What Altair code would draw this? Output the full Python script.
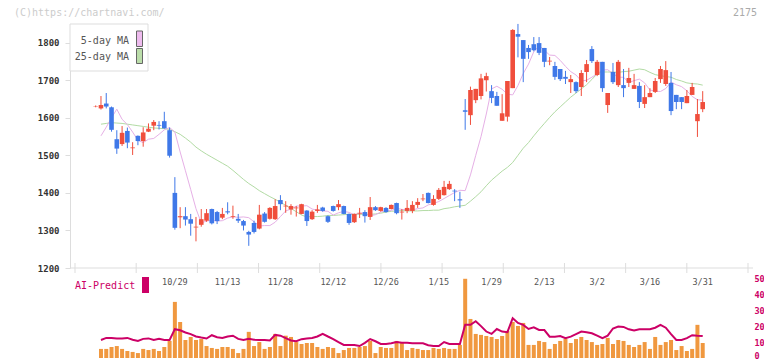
import altair as alt
import pandas as pd

# ---------------- data ----------------
date_labels = ["10/29", "11/13", "11/28", "12/12", "12/26", "1/15", "1/29", "2/13", "3/2", "3/16", "3/31"]
date_label_idx = [15, 25, 35, 45, 55, 65, 75, 85, 95, 105, 115]

opens = [1630, 1625, 1638, 1628, 1543, 1530, 1565, 1519, 1552, 1538, 1563, 1579, 1581, 1591, 1567,
         1400, 1335, 1338, 1330, 1308, 1315, 1326, 1357, 1349, 1334, 1351, 1336, 1331, 1325, 1296,
         1320, 1305, 1345, 1331, 1330, 1381, 1364, 1356, 1359, 1344, 1353, 1330, 1352, 1361, 1338,
         1365, 1362, 1365, 1344, 1322, 1345, 1349, 1336, 1362, 1352, 1360, 1357, 1373, 1348, 1352,
         1352, 1368, 1383, 1400, 1368, 1384, 1394, 1410, 1406, 1383, 1620, 1607, 1647, 1658, 1700,
         1671, 1658, 1592, 1603, 1679, 1823, 1807, 1786, 1796, 1799, 1786, 1750, 1738, 1730, 1709,
         1695, 1695, 1682, 1722, 1783, 1714, 1749, 1634, 1722, 1687, 1687, 1693, 1677, 1685, 1637,
         1655, 1669, 1703, 1690, 1693, 1661, 1655, 1639, 1661, 1591, 1623]
highs = [1633, 1658, 1666, 1630, 1567, 1578, 1574, 1535, 1553, 1575, 1585, 1594, 1591, 1616, 1574,
         1442, 1362, 1362, 1344, 1336, 1357, 1357, 1358, 1352, 1360, 1375, 1366, 1344, 1328, 1299,
         1326, 1368, 1349, 1362, 1383, 1394, 1378, 1370, 1365, 1371, 1354, 1354, 1368, 1363, 1340,
         1366, 1381, 1366, 1345, 1345, 1360, 1354, 1389, 1365, 1363, 1362, 1369, 1374, 1357, 1381,
         1378, 1386, 1397, 1401, 1394, 1413, 1432, 1432, 1410, 1403, 1650, 1683, 1677, 1717, 1720,
         1687, 1669, 1663, 1698, 1836, 1850, 1807, 1794, 1815, 1815, 1786, 1762, 1749, 1730, 1725,
         1714, 1697, 1727, 1754, 1791, 1754, 1749, 1666, 1746, 1754, 1730, 1733, 1717, 1695, 1687,
         1679, 1706, 1738, 1751, 1722, 1661, 1655, 1674, 1693, 1650, 1671]
lows = [1628, 1622, 1625, 1563, 1504, 1525, 1519, 1501, 1527, 1523, 1562, 1567, 1569, 1571, 1494,
        1302, 1306, 1313, 1286, 1271, 1310, 1323, 1316, 1317, 1330, 1343, 1331, 1320, 1300, 1259,
        1292, 1303, 1321, 1329, 1328, 1354, 1347, 1342, 1337, 1343, 1312, 1328, 1347, 1350, 1320,
        1350, 1354, 1343, 1315, 1320, 1333, 1321, 1328, 1352, 1350, 1347, 1356, 1343, 1329, 1346,
        1346, 1360, 1378, 1372, 1366, 1381, 1393, 1408, 1378, 1360, 1568, 1581, 1639, 1649, 1670,
        1639, 1632, 1592, 1590, 1679, 1761, 1695, 1757, 1777, 1767, 1735, 1740, 1701, 1698, 1690,
        1666, 1666, 1658, 1695, 1746, 1711, 1669, 1613, 1690, 1682, 1655, 1682, 1677, 1626, 1626,
        1655, 1666, 1693, 1685, 1607, 1623, 1623, 1639, 1661, 1549, 1615]
closes = [1631, 1634, 1630, 1568, 1518, 1560, 1534, 1521, 1538, 1561, 1571, 1589, 1579, 1572, 1499,
          1307, 1338, 1329, 1318, 1310, 1330, 1346, 1319, 1325, 1344, 1348, 1338, 1326, 1313, 1289,
          1296, 1342, 1323, 1360, 1365, 1370, 1366, 1365, 1361, 1370, 1325, 1350, 1356, 1352, 1323,
          1352, 1370, 1344, 1320, 1344, 1347, 1338, 1362, 1354, 1362, 1349, 1368, 1346, 1350, 1360,
          1368, 1376, 1385, 1373, 1384, 1408, 1416, 1424, 1404, 1380, 1616, 1674, 1677, 1705, 1711,
          1653, 1632, 1612, 1698, 1834, 1816, 1757, 1775, 1780, 1773, 1749, 1752, 1709, 1703, 1704,
          1703, 1671, 1719, 1743, 1751, 1749, 1679, 1666, 1695, 1749, 1679, 1706, 1687, 1642, 1655,
          1666, 1698, 1730, 1727, 1618, 1642, 1642, 1658, 1682, 1610, 1642]

# moving averages, volume and AI-Predict start at the second session
ma5 = [1552, 1575, 1600, 1623, 1596, 1582, 1562, 1540, 1534, 1543, 1545, 1556, 1568, 1574,
       1562, 1509, 1459, 1409, 1358, 1320, 1325, 1327, 1325, 1326, 1333, 1336, 1335, 1336, 1334,
       1323, 1312, 1313, 1313, 1322, 1337, 1352, 1357, 1365, 1365, 1366, 1357, 1354, 1352, 1351,
       1341, 1347, 1351, 1348, 1342, 1346, 1345, 1339, 1342, 1349, 1353, 1353, 1359, 1356, 1355,
       1355, 1358, 1360, 1368, 1372, 1377, 1385, 1393, 1401, 1407, 1406, 1448, 1500, 1550, 1610,
       1677, 1684, 1676, 1663, 1661, 1686, 1718, 1743, 1776, 1792, 1780, 1767, 1766, 1753, 1737,
       1723, 1714, 1698, 1700, 1708, 1717, 1727, 1728, 1718, 1708, 1708, 1694, 1699, 1703, 1693,
       1674, 1671, 1670, 1678, 1695, 1688, 1683, 1672, 1657, 1648, 1647]
ma25 = [1583, 1585, 1587, 1586, 1585, 1583, 1581, 1579, 1577, 1575, 1573, 1572, 1571, 1569,
        1563, 1556, 1546, 1535, 1522, 1512, 1503, 1495, 1487, 1479, 1471, 1460, 1448, 1436, 1425,
        1416, 1406, 1398, 1390, 1383, 1375, 1367, 1358, 1350, 1341, 1336, 1337, 1337, 1338, 1340,
        1340, 1341, 1342, 1343, 1343, 1343, 1343, 1343, 1344, 1346, 1349, 1351, 1352, 1353, 1352,
        1352, 1352, 1353, 1353, 1354, 1354, 1358, 1360, 1363, 1365, 1367, 1378, 1390, 1403, 1419,
        1434, 1446, 1458, 1468, 1481, 1500, 1519, 1534, 1552, 1569, 1585, 1601, 1616, 1629, 1642,
        1655, 1666, 1677, 1688, 1702, 1717, 1722, 1722, 1722, 1721, 1723, 1724, 1727, 1730, 1728,
        1721, 1715, 1712, 1710, 1708, 1702, 1698, 1693, 1691, 1690, 1687]
volume = [5.7, 5.7, 6.9, 7.5, 5.7, 4.4, 3.8, 3.1, 5.7, 5.0, 5.7, 4.4, 6.9, 10.7,
          35.2, 22.6, 11.3, 13.2, 11.3, 11.9, 7.5, 6.3, 5.7, 6.9, 6.9, 5.7, 3.1, 5.7, 16.4,
          7.5, 10.0, 5.7, 6.9, 15.1, 7.5, 14.0, 13.2, 10.0, 8.8, 9.4, 9.4, 6.9, 5.7, 6.9,
          6.3, 3.1, 5.0, 6.3, 6.3, 6.9, 7.5, 10.7, 3.1, 6.9, 6.3, 6.3, 10.7, 10.0, 5.0,
          6.3, 5.7, 5.0, 5.0, 6.3, 5.7, 6.3, 5.7, 5.7, 8.2, 49.7, 24.5, 15.1, 14.5, 13.8,
          13.2, 11.9, 13.8, 17.0, 22.6, 20.1, 22.0, 8.2, 8.2, 10.7, 10.0, 5.7, 8.8, 10.7, 11.9,
          9.4, 11.9, 13.2, 11.3, 10.0, 8.2, 8.8, 12.6, 8.8, 11.3, 10.7, 8.2, 6.9, 8.2, 10.0,
          5.7, 13.2, 8.2, 10.0, 11.3, 5.0, 7.5, 4.4, 5.7, 20.8, 9.4]
ai_predict = [11.3, 12.6, 12.6, 12.2, 12.2, 12.6, 11.5, 10.7, 12.0, 12.3, 11.3, 12.0, 11.3, 11.3,
              18.1, 17.4, 16.0, 15.0, 13.5, 12.8, 12.2, 14.3, 13.0, 12.6, 13.5, 14.0, 12.0, 11.3, 12.0,
              11.5, 11.3, 11.3, 11.0, 14.5, 14.0, 12.5, 11.0, 10.5, 11.8, 12.3, 12.6, 13.5, 15.2, 13.5,
              11.9, 10.0, 8.2, 8.2, 8.2, 7.5, 9.5, 11.9, 10.5, 8.8, 8.8, 9.2, 10.0, 9.5, 9.5,
              9.2, 9.2, 9.2, 8.0, 7.5, 7.5, 10.0, 8.8, 8.8, 8.8, 20.8, 20.8, 23.1, 20.0, 16.6,
              15.1, 18.2, 16.6, 16.2, 25.0, 22.0, 20.8, 18.2, 19.3, 17.6, 17.5, 13.4, 13.4, 13.8, 12.4,
              13.4, 15.0, 16.6, 16.2, 15.5, 14.0, 12.4, 14.0, 18.5, 19.7, 19.5, 18.0, 17.2, 18.0, 18.0,
              18.0, 19.0, 20.8, 19.0, 15.0, 11.3, 11.3, 12.5, 14.3, 14.0, 13.8]

price_ticks = [1200, 1300, 1400, 1500, 1600, 1700, 1800]
vol_ticks = [0, 10, 20, 30, 40, 50]

# ---------------- styling ----------------
RED = "#f04e3c"
BLUE = "#3f78e8"
PINK = "#e6b0e6"
GREEN = "#b2dba4"
ORANGE = "#f0983f"
MAGENTA = "#cc0066"
AXIS_GRAY = "#dddddd"
MONO = "DejaVu Sans Mono"

W, H = 683, 350
X_MIN, X_MAX = -3.92, 123.58

n = len(opens)
cdf = pd.DataFrame({"i": list(range(n)), "open": opens, "high": highs, "low": lows, "close": closes})
cdf["dir"] = ["up" if c >= o else "down" for o, c in zip(opens, closes)]
sdf = pd.DataFrame({"i": list(range(1, n)), "ma5": ma5, "ma25": ma25, "vol": volume, "ai": ai_predict})
ldf = pd.DataFrame({"i": date_label_idx, "label": date_labels})
tdf = pd.DataFrame({"t": [X_MIN + k * (X_MAX - X_MIN) / 11 for k in range(12)]})
one = pd.DataFrame({"a": [0]})

xs = alt.Scale(domain=[X_MIN, X_MAX], nice=False, zero=False)
ps = alt.Scale(domain=[1200, 1800], range=[260, 34.7], nice=False, zero=False)
vs = alt.Scale(domain=[0, 50], range=[350, 270.3], nice=False)
X = alt.X("i:Q", scale=xs, axis=None)
color = alt.Color("dir:N", scale=alt.Scale(domain=["up", "down"], range=[RED, BLUE]), legend=None)

left_axis = alt.Axis(values=price_ticks, format="d", tickSize=5, labelPadding=6, domainColor=AXIS_GRAY,
                     tickColor=AXIS_GRAY, labelColor="#333333", labelFont=MONO, labelFontSize=9,
                     labelFontWeight="bold", grid=False, title=None)
right_axis = alt.Axis(orient="right", values=vol_ticks, format="d", ticks=False, domain=False,
                      labelPadding=1, labelColor=MAGENTA, labelFont=MONO, labelFontSize=8.5,
                      labelFontWeight="bold", grid=False, title=None,
                      labelOffset={"condition": {"test": "datum.value === 0", "value": -3}, "value": 0})

ma25_line = alt.Chart(sdf).mark_line(color=GREEN, strokeWidth=1).encode(
    x=X, y=alt.Y("ma25:Q", scale=ps, axis=None))
ma5_line = alt.Chart(sdf).mark_line(color=PINK, strokeWidth=1).encode(
    x=X, y=alt.Y("ma5:Q", scale=ps, axis=None))
wicks = alt.Chart(cdf).mark_rule(strokeWidth=1).encode(
    x=X, y=alt.Y("low:Q", scale=ps, axis=left_axis), y2="high:Q", color=color)
bodies = alt.Chart(cdf).mark_bar(size=4.6).encode(
    x=X, y=alt.Y("open:Q", scale=ps, axis=None), y2="close:Q", color=color)

vol_bars = alt.Chart(sdf).mark_bar(size=4, color=ORANGE).encode(
    x=X, y=alt.Y("vol:Q", scale=vs, axis=right_axis))
ai_line = alt.Chart(sdf).mark_line(color=MAGENTA, strokeWidth=2).encode(
    x=X, y=alt.Y("ai:Q", scale=vs, axis=None))

x_axis_line = alt.Chart(one).mark_rule(color=AXIS_GRAY).encode(
    x=alt.value(0), x2=alt.value(W), y=alt.value(260))
x_ticks = alt.Chart(tdf).mark_rule(color=AXIS_GRAY).encode(
    x=alt.X("t:Q", scale=xs, axis=None), y=alt.value(255), y2=alt.value(265))
date_text = alt.Chart(ldf).mark_text(font=MONO, fontSize=8.5, color="#555555", baseline="middle").encode(
    x=X, y=alt.value(274), text="label:N")

watermark = alt.Chart(one).mark_text(font=MONO, fontSize=10, color="#cccccc", align="left",
                                     baseline="middle", text="(C)https://chartnavi.com/").encode(
    x=alt.value(-56), y=alt.value(4.7))
code_text = alt.Chart(one).mark_text(font=MONO, fontSize=10, color="#aaaaaa", align="right",
                                     baseline="middle", text="2175").encode(
    x=alt.value(687), y=alt.value(4.7))

legend_box = alt.Chart(one).mark_rect(fill="white", stroke=AXIS_GRAY, strokeWidth=1).encode(
    x=alt.value(0), x2=alt.value(78), y=alt.value(16), y2=alt.value(63))
leg5 = alt.Chart(one).mark_text(font=MONO, fontSize=10, color="#555555", align="right",
                                baseline="middle", text="5-day MA").encode(x=alt.value(59), y=alt.value(32.7))
leg25 = alt.Chart(one).mark_text(font=MONO, fontSize=10, color="#555555", align="right",
                                 baseline="middle", text="25-day MA").encode(x=alt.value(59), y=alt.value(48.7))
sw5 = alt.Chart(one).mark_rect(fill="#eebbee", stroke="#666666", strokeWidth=1).encode(
    x=alt.value(66.5), x2=alt.value(72.5), y=alt.value(23), y2=alt.value(38.5))
sw25 = alt.Chart(one).mark_rect(fill="#bbddaa", stroke="#666666", strokeWidth=1).encode(
    x=alt.value(66.5), x2=alt.value(72.5), y=alt.value(40.5), y2=alt.value(55.5))

ai_text = alt.Chart(one).mark_text(font=MONO, fontSize=10, color=MAGENTA, align="left",
                                   baseline="middle", text="AI-Predict").encode(x=alt.value(5), y=alt.value(278))
ai_box = alt.Chart(one).mark_rect(fill=MAGENTA).encode(
    x=alt.value(72), x2=alt.value(79), y=alt.value(269), y2=alt.value(285))

chart = alt.layer(
    x_axis_line, x_ticks, ma25_line, ma5_line, wicks, bodies, vol_bars, ai_line,
    date_text, watermark, code_text, legend_box, leg5, leg25, sw5, sw25, ai_text, ai_box
).resolve_scale(y="independent").properties(
    width=W, height=H,
    autosize=alt.AutoSizeParams(type="none"),
    padding={"left": 62, "top": 0, "right": 11, "bottom": 3},
).configure_view(stroke=None)

chart.save("out.html", embed_options={"renderer": "svg", "actions": False})
